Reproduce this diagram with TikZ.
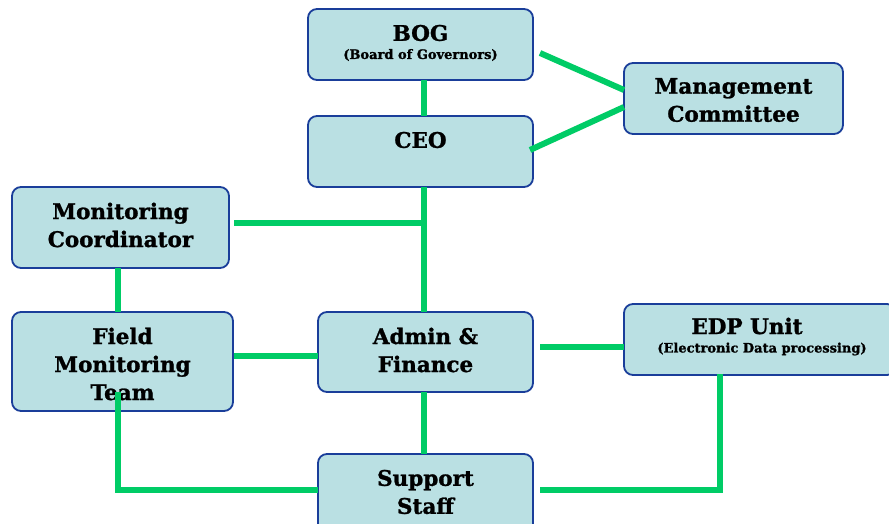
\documentclass[tikz,border=0pt]{standalone}
\usepackage{fontspec}
\setmainfont{DejaVu Serif}[BoldFeatures={FakeBold=1.2}]
\definecolor{boxfill}{HTML}{BAE0E3}
\definecolor{boxline}{HTML}{1A3E9A}
\definecolor{linkgreen}{HTML}{00CC66}
\tikzset{
  orgbox/.style={draw=boxline, line width=1.8pt, fill=boxfill, rounded corners=9pt, inner sep=0pt},
  maintext/.style={font=\bfseries\fontsize{21.5}{28}\selectfont, align=center, inner sep=0pt},
  subtext/.style={font=\bfseries\fontsize{13}{15}\selectfont, align=center, inner sep=0pt},
  link/.style={draw=linkgreen, line width=6pt}
}
\begin{document}
\begin{tikzpicture}[x=1pt,y=-1pt]
\useasboundingbox (0,0) rectangle (889,524);
% boxes
\node[orgbox, minimum width=225pt, minimum height=71pt] (bog) at (420.5,44.5) {};
\node[orgbox, minimum width=225pt, minimum height=71pt] (ceo) at (420.5,151.5) {};
\node[orgbox, minimum width=219pt, minimum height=71pt] (mgmt) at (733.5,98.5) {};
\node[orgbox, minimum width=217pt, minimum height=81pt] (mon) at (120.5,227.5) {};
\node[orgbox, minimum width=221pt, minimum height=99pt] (fmt) at (122.5,361.5) {};
\node[orgbox, minimum width=215pt, minimum height=80pt] (adm) at (425.5,352) {};
\node[orgbox, minimum width=272pt, minimum height=71pt] (edp) at (760,339.5) {};
\node[orgbox, minimum width=215pt, minimum height=80pt] (sup) at (425.5,494) {};
% texts
\node[maintext] (bogt) at (420.5,33) {BOG};
\node[subtext] (bogs) at (420.5,55) {(Board of Governors)};
\node[maintext] (ceot) at (420.5,140) {CEO};
\node[maintext] (mgmtt) at (733.5,100) {Management\\Committee};
\node[maintext] (mont) at (120.5,225) {Monitoring\\Coordinator};
\node[maintext] (fmtt) at (122.5,364) {Field\\Monitoring\\Team};
\node[maintext] (admt) at (425.5,350) {Admin \&\\Finance};
\node[maintext] (edpt) at (747,326) {EDP Unit};
\node[subtext] (edps) at (762,349) {(Electronic Data processing)};
\node[maintext] (supt) at (425.5,492) {Support\\Staff};
% connector points
\coordinate (bogR) at (540,53);
\coordinate (mgL1) at (624,90);
\coordinate (mgL2) at (624,107);
\coordinate (ceoR) at (530,150);
\coordinate (j1) at (424,223);
\coordinate (monR) at (234,223);
\coordinate (fmtR) at (234,356);
\coordinate (admR) at (540,347);
\coordinate (fmtIn) at (118,392);
\coordinate (c1) at (118,490);
\coordinate (supR) at (540,490);
\coordinate (c2) at (720,490);
% connectors
\draw[link] (424,80) -- (424,116);
\draw[link] (bogR) -- (mgL1);
\draw[link] (mgL2) -- (ceoR);
\draw[link] (424,187) -- (424,312);
\draw[link] (monR) -- (j1);
\draw[link] (118,268) -- (118,312);
\draw[link] (fmtR) -- (318,356);
\draw[link] (admR) -- (624,347);
\draw[link] (424,392) -- (424,454);
\draw[link] (fmtIn) -- (c1) -- (318,490);
\draw[link] (supR) -- (c2) -- (720,374);
\end{tikzpicture}
\end{document}
